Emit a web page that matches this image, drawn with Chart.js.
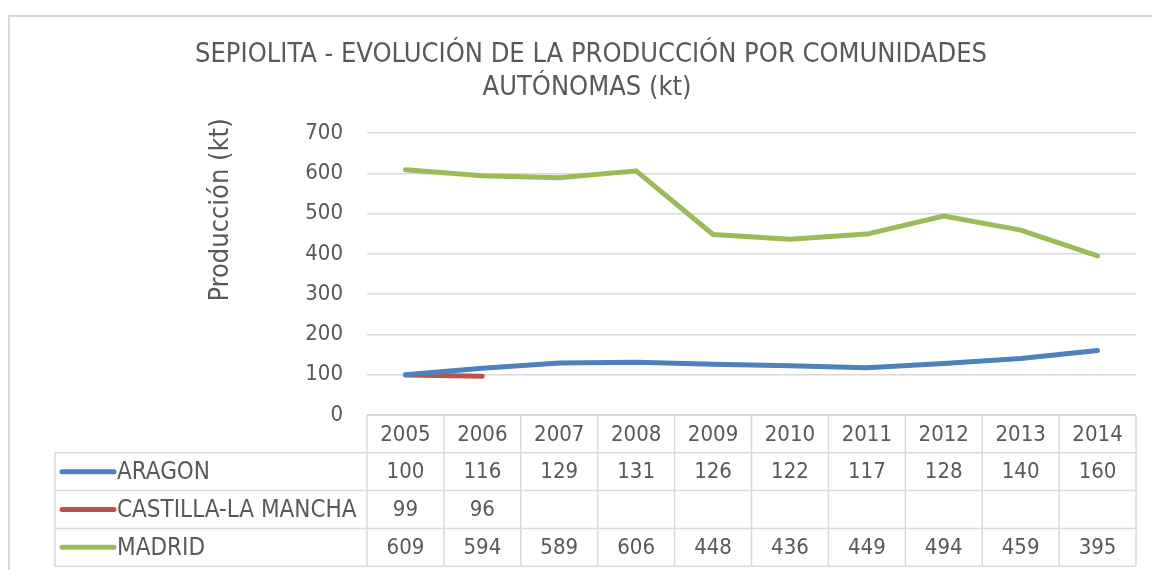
<!DOCTYPE html>
<html>
<head>
<meta charset="utf-8">
<script src="https://cdn.jsdelivr.net/npm/chart.js@4.4.0/dist/chart.umd.min.js"></script>
<style>
  body { margin: 0; background: #fff; }
</style>
</head>
<body>
<canvas id="chartSepiolita" width="1152" height="570"></canvas>
<script>
const years = ['2005', '2006', '2007', '2008', '2009', '2010', '2011', '2012', '2013', '2014'];
const aragon = [100, 116, 129, 131, 126, 122, 117, 128, 140, 160];
const castilla = [99, 96, null, null, null, null, null, null, null, null];
const madrid = [609, 594, 589, 606, 448, 436, 449, 494, 459, 395];
const seriesNames = ['ARAGON', 'CASTILLA-LA MANCHA', 'MADRID'];
const seriesColors = ['#4F81BD', '#C0504D', '#9BBB59'];
const yMax = 700;
const yStep = 100;

const FONT = '"DejaVu Sans Condensed", "Liberation Sans Narrow", Tahoma, "DejaVu Sans", sans-serif';
const TXT = '#595959';
const GRID = '#D9D9D9';

// title, axis title, outer frame and the data table under the plot
const extras = {
  id: 'extras',
  afterDraw(chart) {
    const c = chart.ctx;
    const x = chart.scales.x;
    const area = chart.chartArea;
    const allData = [aragon, castilla, madrid];

    c.save();
    // outer frame
    c.strokeStyle = GRID;
    c.lineWidth = 2;
    c.beginPath();
    c.moveTo(9, 570);
    c.lineTo(9, 16);
    c.lineTo(1152, 16);
    c.stroke();

    // title
    c.fillStyle = TXT;
    c.textAlign = 'center';
    c.textBaseline = 'middle';
    c.font = '27px ' + FONT;
    c.fillText('SEPIOLITA - EVOLUCIÓN DE LA PRODUCCIÓN POR COMUNIDADES', 591, 55);
    c.fillText('AUTÓNOMAS (kt)', 587, 88);

    // y axis title
    c.save();
    c.translate(221, 210);
    c.rotate(-Math.PI / 2);
    c.fillText('Producción (kt)', 0, 0);
    c.restore();

    // table
    const rowH = 37.8;
    const top = area.bottom;
    const legendLeft = 55;
    const step = x.getPixelForValue(1) - x.getPixelForValue(0);
    c.strokeStyle = GRID;
    c.lineWidth = 1.5;
    c.beginPath();
    c.moveTo(area.left, top);
    c.lineTo(area.right, top);
    for (let r = 1; r <= 4; r++) {
      c.moveTo(legendLeft, top + r * rowH);
      c.lineTo(area.right, top + r * rowH);
    }
    c.moveTo(legendLeft, top + rowH);
    c.lineTo(legendLeft, top + 4 * rowH);
    for (let i = 0; i <= years.length; i++) {
      const px = x.getPixelForValue(i) - step / 2;
      c.moveTo(px, top);
      c.lineTo(px, top + 4 * rowH);
    }
    c.stroke();

    c.font = '22px ' + FONT;
    c.fillStyle = TXT;
    c.textAlign = 'center';
    years.forEach((yr, i) => {
      c.fillText(yr, x.getPixelForValue(i), top + rowH / 2 + 1);
    });
    allData.forEach((arr, r) => {
      const cy = top + (r + 1.5) * rowH + 1;
      c.font = '22px ' + FONT;
      arr.forEach((v, i) => {
        if (v !== null) c.fillText(String(v), x.getPixelForValue(i), cy);
      });
      // legend key
      c.strokeStyle = seriesColors[r];
      c.lineWidth = 5;
      c.lineCap = 'round';
      c.beginPath();
      c.moveTo(62, cy - 1);
      c.lineTo(114, cy - 1);
      c.stroke();
      c.textAlign = 'left';
      c.font = '24px ' + FONT;
      c.fillText(seriesNames[r], 117, cy);
      c.textAlign = 'center';
    });
    c.restore();
  }
};

const ctx = document.getElementById('chartSepiolita');

new Chart(ctx, {
  type: 'line',
  data: {
    labels: years,
    datasets: [aragon, castilla, madrid].map((d, i) => ({
      label: seriesNames[i],
      data: d,
      borderColor: seriesColors[i],
      backgroundColor: seriesColors[i],
      borderWidth: 5,
      borderCapStyle: 'round',
      borderJoinStyle: 'round',
      pointRadius: 0,
      tension: 0,
      spanGaps: false
    }))
  },
  options: {
    responsive: false,
    animation: false,
    layout: {
      padding: { left: 0, right: 16, top: 133, bottom: 155 }
    },
    plugins: {
      legend: { display: false },
      tooltip: { enabled: false }
    },
    scales: {
      x: {
        display: false,
        offset: true
      },
      y: {
        min: 0,
        max: yMax,
        afterFit(scale) { scale.width = 367; },
        ticks: {
          stepSize: yStep,
          padding: 24,
          color: TXT,
          font: { family: FONT, size: 22 }
        },
        grid: {
          color: GRID,
          lineWidth: 1.5,
          drawTicks: false
        },
        border: { display: false }
      }
    }
  },
  plugins: [extras]
});
</script>
</body>
</html>
